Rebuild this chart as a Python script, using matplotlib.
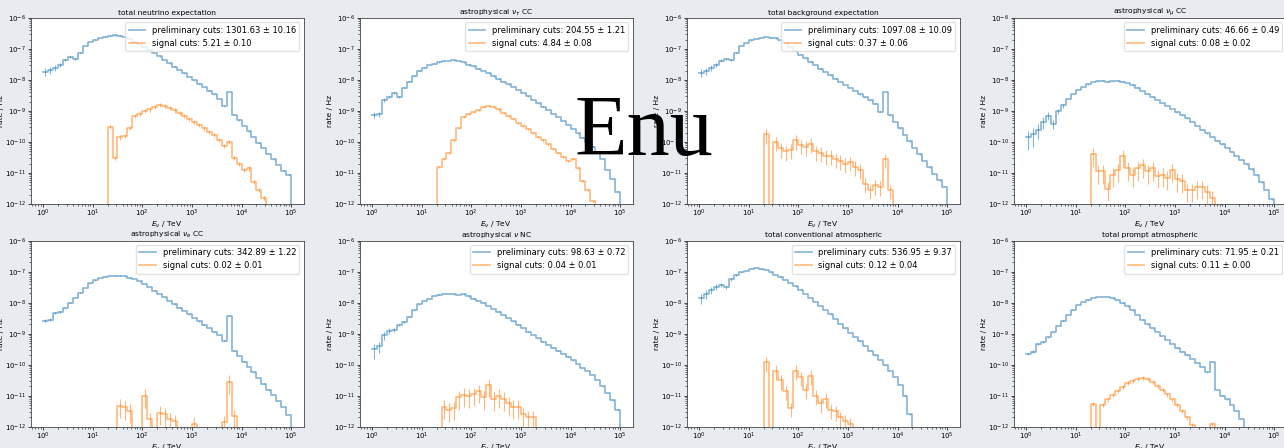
import numpy as np
import matplotlib
matplotlib.use("Agg")
import matplotlib.pyplot as plt

# ---------------------------------------------------------------------------
# Binning: 10 logarithmic bins per decade from 1 TeV to 100 PeV
# ---------------------------------------------------------------------------
log_edge_lo, log_edge_hi, n_bins = 0, 5, 50

panel_titles = [
    "total neutrino expectation",
    r"astrophysical $\nu_\tau$ CC",
    "total background expectation",
    r"astrophysical $\nu_\mu$ CC",
    r"astrophysical $\nu_e$ CC",
    r"astrophysical $\nu$ NC",
    "total conventional atmospheric",
    "total prompt atmospheric",
]

prelim_totals = ["1301.63 ± 10.16", "204.55 ± 1.21", "1097.08 ± 10.09", "46.66 ± 0.49",
                 "342.89 ± 1.22", "98.63 ± 0.72", "536.95 ± 9.37", "71.95 ± 0.21"]
signal_totals = ["5.21 ± 0.10", "4.84 ± 0.08", "0.37 ± 0.06", "0.08 ± 0.02",
                 "0.02 ± 0.01", "0.04 ± 0.01", "0.12 ± 0.04", "0.11 ± 0.00"]

N = None  # empty bin

# log10(rate / Hz) per energy bin, preliminary cuts
total_nu_prelim = [
    -7.73, -7.68, -7.60, -7.50, -7.35, -7.27, -7.33, -7.12, -6.90, -6.78,
    -6.70, -6.64, -6.60, -6.57, -6.56, -6.57, -6.62, -6.68, -6.76, -6.84,
    -6.93, -7.03, -7.13, -7.24, -7.35, -7.46, -7.57, -7.68, -7.79, -7.90,
    -8.01, -8.12, -8.23, -8.34, -8.46, -8.62, -8.85, -8.38, -9.12, -9.30,
    -9.48, -9.66, -9.84, -10.02, -10.20, -10.38, -10.56, -10.74, -10.92, -11.05]
astro_nutau_prelim = [
    -9.12, -9.10, -8.65, -8.55, -8.42, -8.55, -8.25, -8.05, -7.88, -7.70,
    -7.60, -7.52, -7.47, -7.43, -7.40, -7.38, -7.37, -7.39, -7.43, -7.50,
    -7.56, -7.63, -7.71, -7.79, -7.88, -7.96, -8.05, -8.14, -8.23, -8.32,
    -8.42, -8.53, -8.64, -8.75, -8.86, -8.97, -9.09, -9.20, -9.32, -9.45,
    -9.58, -9.72, -9.86, -10.00, -10.15, -10.32, -10.55, -10.90, -11.20, -11.60]
total_bg_prelim = [
    -7.76, -7.70, -7.60, -7.50, -7.38, -7.32, -7.35, -7.12, -6.90, -6.80,
    -6.72, -6.67, -6.64, -6.62, -6.63, -6.66, -6.72, -6.82, -6.95, -7.08,
    -7.19, -7.30, -7.41, -7.52, -7.63, -7.74, -7.85, -7.96, -8.06, -8.16,
    -8.26, -8.36, -8.46, -8.56, -8.66, -8.76, -9.02, -8.38, -9.14, -9.35,
    -9.56, -9.77, -9.98, -10.19, -10.40, -10.61, -10.82, -11.03, -11.24, -11.45]
astro_numu_prelim = [
    -9.85, -9.75, -9.60, -9.35, -9.15, -9.42, -9.00, -8.82, -8.62, -8.45,
    -8.32, -8.22, -8.14, -8.07, -8.04, -8.02, -8.05, -8.04, -8.02, -8.05,
    -8.10, -8.17, -8.25, -8.35, -8.44, -8.54, -8.64, -8.74, -8.84, -8.94,
    -9.04, -9.14, -9.24, -9.36, -9.48, -9.60, -9.72, -9.84, -9.96, -10.08,
    -10.20, -10.32, -10.45, -10.58, -10.72, -10.88, -11.08, -11.30, -11.55, -11.85]
astro_nue_prelim = [
    -8.58, -8.55, -8.32, -8.30, -8.18, -8.00, -7.85, -7.68, -7.52, -7.38,
    -7.28, -7.21, -7.16, -7.14, -7.13, -7.13, -7.15, -7.19, -7.24, -7.31,
    -7.40, -7.50, -7.61, -7.72, -7.83, -7.94, -8.05, -8.16, -8.27, -8.38,
    -8.49, -8.60, -8.71, -8.82, -8.93, -9.04, -9.22, -8.42, -9.55, -9.72,
    -9.90, -10.07, -10.25, -10.43, -10.61, -10.80, -10.98, -11.17, -11.37, -11.62]
astro_nc_prelim = [
    -9.50, -9.40, -9.05, -8.90, -8.88, -8.72, -8.62, -8.45, -8.25, -8.05,
    -7.95, -7.88, -7.79, -7.74, -7.72, -7.72, -7.73, -7.75, -7.73, -7.80,
    -7.87, -7.94, -8.02, -8.11, -8.20, -8.29, -8.39, -8.49, -8.60, -8.71,
    -8.82, -8.93, -9.04, -9.15, -9.26, -9.36, -9.45, -9.55, -9.65, -9.74,
    -9.86, -9.98, -10.10, -10.20, -10.33, -10.50, -10.70, -10.92, -11.15, -11.45]
conv_atm_prelim = [
    -7.85, -7.72, -7.60, -7.48, -7.42, -7.50, -7.25, -7.10, -7.02, -6.98,
    -6.92, -6.88, -6.90, -6.95, -7.02, -7.10, -7.18, -7.27, -7.37, -7.47,
    -7.58, -7.72, -7.85, -7.98, -8.10, -8.23, -8.38, -8.53, -8.68, -8.83,
    -8.97, -9.11, -9.25, -9.40, -9.55, -9.70, -9.85, -10.02, -10.20, -10.40,
    -10.65, -11.00, -11.60, -12.30, -12.80, N, N, N, N, N]
prompt_atm_prelim = [
    -9.65, -9.58, -9.32, -9.27, -9.12, -8.95, -8.75, -8.58, -8.40, -8.22,
    -8.08, -7.97, -7.90, -7.85, -7.82, -7.81, -7.82, -7.86, -7.92, -8.00,
    -8.12, -8.25, -8.40, -8.55, -8.70, -8.83, -8.95, -9.08, -9.21, -9.33,
    -9.47, -9.58, -9.70, -9.82, -9.95, -10.07, -10.25, -9.92, -10.82, -11.00,
    -11.12, -11.30, -11.50, -11.75, -12.05, -12.30, N, N, N, N]

# log10(rate / Hz) per energy bin, signal cuts
total_nu_signal = [
    N, N, N, N, N, N, N, N, N, N,
    N, N, N, -9.50, -10.50, -9.85, -9.80, -9.55, -9.15, -9.10,
    -9.00, -8.95, -8.88, -8.80, -8.83, -8.90, -8.98, -9.07, -9.16, -9.26,
    -9.36, -9.46, -9.56, -9.67, -9.78, -9.92, -10.12, -10.00, -10.50, -10.70,
    -10.90, -10.85, -11.30, -11.55, -11.80, N, N, N, N, N]
astro_nutau_signal = [
    N, N, N, N, N, N, N, N, N, N,
    N, N, N, -10.80, -10.55, -10.35, -9.95, -9.55, -9.20, -9.10,
    -9.04, -8.97, -8.88, -8.83, -8.87, -8.95, -9.05, -9.15, -9.27, -9.38,
    -9.48, -9.58, -9.70, -9.83, -9.95, -10.08, -10.22, -10.35, -10.48, -10.62,
    -10.55, -10.85, -11.25, -11.55, -11.90, N, N, N, N, N]
total_bg_signal = [
    N, N, N, N, N, N, N, N, N, N,
    N, N, N, -9.75, N, -10.00, -10.20, -10.30, -10.25, -9.95,
    -10.10, -10.15, -10.05, -10.30, -10.35, -10.45, -10.45, -10.55, -10.60, -10.70,
    -10.65, -10.80, -10.90, -11.35, -11.55, -11.40, -11.45, -10.55, -11.55, N,
    N, N, N, N, N, N, N, N, N, N]
astro_numu_signal = [
    N, N, N, N, N, N, N, N, N, N,
    N, N, N, -10.40, -10.95, -10.95, -11.50, -11.05, -10.90, -10.45,
    -10.85, -11.05, -10.85, -10.75, -10.95, -10.85, -11.10, -11.05, -11.15, -10.90,
    -11.20, -11.25, -11.55, -11.55, -11.45, -11.45, -11.60, -11.80, N, N,
    N, N, N, N, N, N, N, N, N, N]
astro_nue_signal = [
    N, N, N, N, N, N, N, N, N, N,
    N, N, N, N, N, -11.32, -11.38, -11.48, N, N,
    -11.00, -11.75, N, -11.55, -11.60, -11.75, -11.82, N, N, N,
    -11.90, N, N, N, N, N, -11.85, -10.55, -11.65, N,
    N, N, N, N, N, N, N, N, N, N]
astro_nc_signal = [
    N, N, N, N, N, N, N, N, N, N,
    N, N, N, N, -11.35, -11.45, -11.40, -11.05, -10.97, -11.00,
    -10.95, -10.85, -11.05, -10.65, -11.10, -11.00, -11.10, -11.25, -11.35, -11.35,
    -11.60, -11.70, -11.70, N, N, N, N, N, N, N,
    N, N, N, N, N, N, N, N, N, N]
conv_atm_signal = [
    N, N, N, N, N, N, N, N, N, N,
    N, N, N, -9.92, N, -10.20, -10.50, -10.85, -11.40, -10.20,
    -10.40, -10.80, -10.35, -11.00, -11.25, -11.10, -11.45, -11.50, -11.70, -11.80,
    -11.90, N, N, N, N, N, N, N, N, N,
    N, N, N, N, N, N, N, N, N, N]
prompt_atm_signal = [
    N, N, N, N, N, N, N, N, N, N,
    N, N, N, -11.27, N, -11.30, -11.12, -10.98, -10.85, -10.72,
    -10.60, -10.53, -10.47, -10.42, -10.47, -10.55, -10.68, -10.82, -10.96, -11.12,
    -11.30, -11.50, -11.70, -11.95, -12.20, N, N, -11.90, N, N,
    N, N, N, N, N, N, N, N, N, N]

prelim_series = [total_nu_prelim, astro_nutau_prelim, total_bg_prelim, astro_numu_prelim,
                 astro_nue_prelim, astro_nc_prelim, conv_atm_prelim, prompt_atm_prelim]
signal_series = [total_nu_signal, astro_nutau_signal, total_bg_signal, astro_numu_signal,
                 astro_nue_signal, astro_nc_signal, conv_atm_signal, prompt_atm_signal]

# relative statistical uncertainty of the lowest-energy bins (preliminary cuts)
prelim_low_relerr = [
    [0.30, 0.25, 0.20, 0.15, 0.10, 0.08, 0.06, 0.05],
    [0.20, 0.20, 0.15, 0.10, 0.08, 0.06, 0.05, 0.04],
    [0.30, 0.25, 0.20, 0.15, 0.10, 0.08, 0.06, 0.05],
    [0.60, 0.60, 0.50, 0.40, 0.30, 0.30, 0.20, 0.15],
    [0.10, 0.10, 0.08, 0.06, 0.05, 0.04, 0.03, 0.03],
    [0.50, 0.40, 0.30, 0.20, 0.15, 0.10, 0.08, 0.06],
    [0.35, 0.30, 0.25, 0.20, 0.15, 0.10, 0.08, 0.06],
    [0.10, 0.10, 0.08, 0.06, 0.05, 0.04, 0.03, 0.03],
]
prelim_relerr_rest = 0.02
# relative statistical uncertainty per bin (signal cuts)
signal_relerr = [0.15, 0.08, 0.5, 0.6, 0.6, 0.6, 0.5, 0.15]


def to_rate(logs):
    return np.array([0.0 if v is None else 10.0 ** v for v in logs])


edges = np.logspace(log_edge_lo, log_edge_hi, n_bins + 1)
centers = np.sqrt(edges[:-1] * edges[1:])

blue = "#1f77b4"
orange = "#ff7f0e"
line_alpha = 0.55
bg = "#e8ebf0"

plt.rcParams.update({
    "font.family": "DejaVu Sans",
    "xtick.labelsize": 5,
    "ytick.labelsize": 5,
    "xtick.major.size": 2.0,
    "ytick.major.size": 2.0,
    "xtick.minor.size": 1.1,
    "ytick.minor.size": 1.1,
    "xtick.major.width": 0.5,
    "ytick.major.width": 0.5,
    "xtick.minor.width": 0.4,
    "ytick.minor.width": 0.4,
    "xtick.major.pad": 1.0,
    "ytick.major.pad": 1.2,
    "axes.linewidth": 0.6,
    "axes.edgecolor": "#444444",
})

fig = plt.figure(figsize=(12.84, 4.48), dpi=100, facecolor=bg)

lefts = [30.6, 359.6, 686.6, 1013.6]
tops = [18.0, 240.7]
ax_w, ax_h = 273.0, 186.0
W, H = 1284.0, 448.0


def draw_errors(ax, x, y, rel, color):
    m = y > 0
    err = y[m] * rel[m]
    lower = np.minimum(err, 0.9 * y[m])
    ax.errorbar(x[m], y[m], yerr=[lower, err], fmt="none", ecolor=color,
                alpha=line_alpha, elinewidth=0.8, capsize=0)


for k in range(8):
    row, col = divmod(k, 4)
    ax = fig.add_axes([lefts[col] / W, 1 - (tops[row] + ax_h) / H, ax_w / W, ax_h / H])
    ax.set_facecolor("white")
    ax.set_xscale("log")
    ax.set_yscale("log")

    pre = to_rate(prelim_series[k])
    sig = to_rate(signal_series[k])

    ax.step(edges, np.append(pre, 0.0), where="post", color=blue, alpha=line_alpha,
            lw=1.2, label="preliminary cuts: " + prelim_totals[k])
    ax.step(edges, np.append(sig, 0.0), where="post", color=orange, alpha=line_alpha,
            lw=1.2, label="signal cuts: " + signal_totals[k])

    pre_rel = np.full(n_bins, prelim_relerr_rest)
    pre_rel[:len(prelim_low_relerr[k])] = prelim_low_relerr[k]
    draw_errors(ax, centers, pre, pre_rel, blue)
    draw_errors(ax, centers, sig, np.full(n_bins, signal_relerr[k]), orange)

    ax.set_xlim(10 ** (log_edge_lo - 0.25), 10 ** (log_edge_hi + 0.25))
    ax.set_ylim(1e-12, 1e-6)
    ax.set_title(panel_titles[k], fontsize=5.4, pad=2.5)
    ax.set_xlabel(r"$E_\nu$ / TeV", fontsize=5.4, labelpad=0.3)
    ax.set_ylabel("rate / Hz", fontsize=5.4, labelpad=1.0)
    ax.legend(loc="upper right", fontsize=6, framealpha=0.8, edgecolor="#dddddd",
              fancybox=True)

fig.text(644 / W, 1 - 155 / H, "Enu", fontsize=62, family="Liberation Serif",
         ha="center", va="baseline", color="black", zorder=20)

fig.savefig("out.png", dpi=100, facecolor=bg)
